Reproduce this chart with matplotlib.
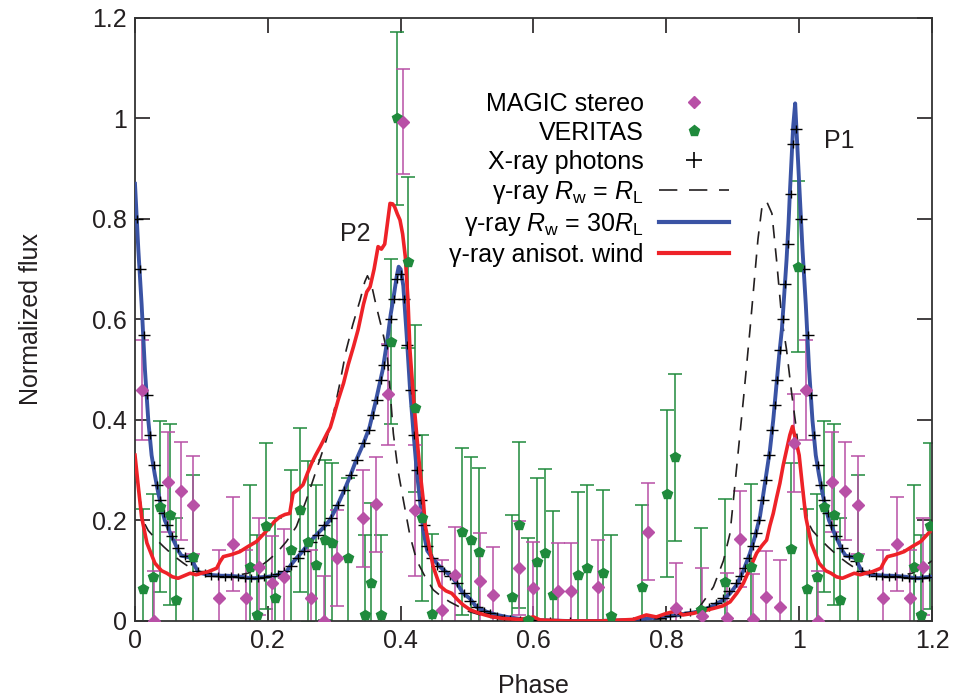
import numpy as np
import matplotlib
matplotlib.use('Agg')
import matplotlib.pyplot as plt
from matplotlib.lines import Line2D

plt.rcParams['font.family'] = ['Liberation Sans', 'DejaVu Sans']
plt.rcParams['mathtext.fontset'] = 'custom'
plt.rcParams['mathtext.rm'] = 'Liberation Sans'
plt.rcParams['mathtext.it'] = 'Liberation Sans:italic'

# --- data (phase 0-1, the 0-0.2 part is repeated at 1-1.2) ---
magic_phase = [0.010, 0.029, 0.050, 0.069, 0.088, 0.127, 0.148, 0.167, 0.186, 0.206,
               0.224, 0.265, 0.284, 0.304, 0.343, 0.363, 0.381, 0.403, 0.422, 0.462,
               0.482, 0.519, 0.539, 0.578, 0.599, 0.637, 0.657, 0.697, 0.773, 0.814,
               0.853, 0.891, 0.911, 0.931, 0.950, 0.971, 0.993]
magic_flux = [0.46, 0.0, 0.277, 0.259, 0.231, 0.046, 0.153, 0.046, 0.108, 0.075,
              0.088, 0.046, 0.0, 0.125, 0.204, 0.232, 0.451, 0.994, 0.22, 0.022,
              0.092, 0.080, 0.052, 0.105, 0.065, 0.060, 0.060, 0.068, 0.178, 0.025,
              0.01, 0.006, 0.163, 0.004, 0.048, 0.028, 0.354]
magic_err = [0.10, 0.10, 0.10, 0.097, 0.097, 0.095, 0.094, 0.095, 0.096, 0.095,
             0.095, 0.095, 0.09, 0.095, 0.097, 0.095, 0.10, 0.104, 0.13, 0.10,
             0.096, 0.095, 0.096, 0.093, 0.093, 0.095, 0.095, 0.093, 0.096, 0.09,
             0.095, 0.09, 0.095, 0.09, 0.092, 0.093, 0.097]

veritas_phase = [0.012, 0.027, 0.037, 0.052, 0.062, 0.088, 0.173, 0.183, 0.197, 0.211,
                 0.235, 0.248, 0.260, 0.273, 0.286, 0.296, 0.321, 0.346, 0.356, 0.371,
                 0.385, 0.394, 0.411, 0.422, 0.432, 0.447, 0.493, 0.506, 0.518, 0.567,
                 0.578, 0.592, 0.605, 0.617, 0.630, 0.667, 0.680, 0.704, 0.716, 0.764,
                 0.801, 0.813, 0.852, 0.888, 0.928, 0.988, 0.998]
veritas_flux = [0.063, 0.087, 0.227, 0.211, 0.042, 0.127, 0.108, 0.012, 0.189, 0.045,
                0.141, 0.221, 0.158, 0.111, 0.161, 0.155, 0.125, 0.012, 0.075, 0.012,
                0.556, 1.0, 0.714, 0.423, 0.205, 0.013, 0.178, 0.161, 0.138, 0.048,
                0.191, 0.002, 0.118, 0.136, 0.052, 0.092, 0.105, 0.096, 0.009, 0.067,
                0.253, 0.326, 0.022, 0.077, 0.108, 0.144, 0.705]
veritas_err = [0.16, 0.165, 0.17, 0.18, 0.163, 0.163, 0.162, 0.16, 0.166, 0.16,
               0.16, 0.164, 0.16, 0.16, 0.16, 0.16, 0.16, 0.16, 0.16, 0.16,
               0.165, 0.172, 0.17, 0.166, 0.166, 0.16, 0.166, 0.166, 0.166, 0.163,
               0.166, 0.163, 0.166, 0.166, 0.166, 0.165, 0.166, 0.165, 0.162, 0.163,
               0.166, 0.166, 0.163, 0.165, 0.165, 0.17, 0.17]

xray_phase = [0.003, 0.008, 0.013, 0.018, 0.023, 0.028, 0.033, 0.038, 0.043, 0.048,
              0.055, 0.065, 0.075, 0.085, 0.095, 0.105, 0.115, 0.125, 0.135, 0.145,
              0.155, 0.165, 0.175, 0.185, 0.195, 0.205, 0.215, 0.225, 0.235, 0.245,
              0.255, 0.265, 0.275, 0.285, 0.295, 0.305, 0.315, 0.325, 0.335, 0.345,
              0.352, 0.358, 0.364, 0.370, 0.375, 0.380, 0.385, 0.390, 0.395, 0.400,
              0.405, 0.410, 0.415, 0.420, 0.425, 0.430, 0.435, 0.440, 0.447, 0.455,
              0.465, 0.475, 0.485, 0.495, 0.505, 0.515, 0.525, 0.535, 0.545, 0.555,
              0.565, 0.580, 0.600, 0.625, 0.655, 0.750, 0.760, 0.790, 0.805, 0.820,
              0.835, 0.850, 0.865, 0.875, 0.885, 0.895, 0.905, 0.912, 0.918, 0.924,
              0.930, 0.935, 0.940, 0.945, 0.950, 0.955, 0.959, 0.963, 0.967, 0.971,
              0.975, 0.979, 0.983, 0.987, 0.991, 0.995]
xray_flux = [0.80, 0.70, 0.57, 0.45, 0.37, 0.31, 0.27, 0.24, 0.215, 0.19,
             0.17, 0.145, 0.13, 0.12, 0.10, 0.095, 0.09, 0.09, 0.088, 0.09,
             0.087, 0.085, 0.086, 0.085, 0.088, 0.09, 0.093, 0.10, 0.11, 0.125,
             0.14, 0.158, 0.172, 0.19, 0.205, 0.23, 0.26, 0.29, 0.32, 0.355,
             0.38, 0.41, 0.44, 0.48, 0.51, 0.55, 0.60, 0.64, 0.68, 0.69,
             0.64, 0.55, 0.46, 0.37, 0.30, 0.24, 0.19, 0.15, 0.125, 0.11,
             0.10, 0.09, 0.075, 0.055, 0.04, 0.028, 0.02, 0.015, 0.01, 0.006,
             0.004, 0.002, 0.001, 0.0, 0.0, 0.0, 0.0, 0.005, 0.01, 0.014,
             0.017, 0.02, 0.028, 0.035, 0.045, 0.06, 0.075, 0.09, 0.105, 0.125,
             0.15, 0.175, 0.20, 0.24, 0.28, 0.33, 0.38, 0.43, 0.48, 0.54,
             0.60, 0.67, 0.75, 0.85, 0.95, 0.98]

# gamma-ray R_w = 30 R_L (blue)
blue_phase = [0.000, 0.005, 0.010, 0.015, 0.020, 0.025, 0.030, 0.035, 0.040, 0.045,
              0.050, 0.055, 0.060, 0.065, 0.070, 0.080, 0.085, 0.090, 0.095, 0.100,
              0.110, 0.120, 0.130, 0.140, 0.150, 0.160, 0.170, 0.180, 0.190, 0.200,
              0.210, 0.220, 0.228, 0.235, 0.243, 0.250, 0.258, 0.265, 0.273, 0.283,
              0.293, 0.303, 0.313, 0.323, 0.333, 0.343, 0.353, 0.363, 0.373, 0.380,
              0.385, 0.390, 0.394, 0.397, 0.400, 0.404, 0.409, 0.414, 0.419, 0.424,
              0.429, 0.434, 0.440, 0.449, 0.459, 0.468, 0.477, 0.486, 0.494, 0.504,
              0.514, 0.530, 0.545, 0.560, 0.580, 0.600, 0.650, 0.700, 0.750, 0.800,
              0.830, 0.851, 0.870, 0.886, 0.896, 0.906, 0.916, 0.926, 0.934, 0.941,
              0.948, 0.956, 0.961, 0.966, 0.970, 0.974, 0.978, 0.981, 0.984, 0.986,
              0.989, 0.991, 0.994, 0.997]
blue_flux = [0.87, 0.74, 0.63, 0.50, 0.40, 0.33, 0.29, 0.255, 0.225, 0.20,
             0.185, 0.168, 0.155, 0.14, 0.13, 0.127, 0.125, 0.11, 0.098, 0.095,
             0.092, 0.091, 0.09, 0.09, 0.089, 0.088, 0.086, 0.085, 0.087, 0.088,
             0.09, 0.094, 0.098, 0.112, 0.125, 0.135, 0.148, 0.16, 0.171, 0.185,
             0.20, 0.225, 0.254, 0.285, 0.32, 0.35, 0.385, 0.44, 0.50, 0.56,
             0.61, 0.65, 0.685, 0.705, 0.70, 0.667, 0.57, 0.464, 0.38, 0.302,
             0.24, 0.18, 0.14, 0.123, 0.108, 0.098, 0.088, 0.072, 0.055, 0.045,
             0.028, 0.018, 0.012, 0.008, 0.004, 0.002, 0.0, 0.0, 0.002, 0.009,
             0.015, 0.019, 0.03, 0.042, 0.055, 0.072, 0.10, 0.135, 0.17, 0.208,
             0.27, 0.34, 0.40, 0.473, 0.53, 0.58, 0.66, 0.718, 0.79, 0.851,
             0.93, 0.984, 1.03, 0.95]

# gamma-ray anisotropic wind (red)
red_phase = [0.000, 0.005, 0.010, 0.018, 0.030, 0.040, 0.048, 0.056, 0.065, 0.074,
             0.083, 0.092, 0.100, 0.110, 0.123, 0.128, 0.133, 0.145, 0.158, 0.170,
             0.183, 0.193, 0.200, 0.210, 0.218, 0.226, 0.233, 0.238, 0.246, 0.253,
             0.260, 0.266, 0.272, 0.279, 0.289, 0.294, 0.299, 0.306, 0.314, 0.321,
             0.329, 0.336, 0.344, 0.349, 0.354, 0.360, 0.366, 0.371, 0.376, 0.380,
             0.384, 0.388, 0.391, 0.395, 0.399, 0.403, 0.407, 0.411, 0.414, 0.419,
             0.424, 0.429, 0.434, 0.437, 0.444, 0.449, 0.459, 0.468, 0.477, 0.486,
             0.494, 0.505, 0.519, 0.535, 0.554, 0.580, 0.600, 0.610, 0.650, 0.700,
             0.750, 0.770, 0.785, 0.800, 0.815, 0.825, 0.840, 0.856, 0.871, 0.885,
             0.896, 0.906, 0.916, 0.926, 0.936, 0.944, 0.951, 0.956, 0.961, 0.966,
             0.971, 0.976, 0.981, 0.986, 0.990, 0.995]
red_flux = [0.33, 0.267, 0.207, 0.155, 0.115, 0.10, 0.095, 0.088, 0.085, 0.09,
            0.095, 0.092, 0.095, 0.098, 0.105, 0.118, 0.128, 0.132, 0.138, 0.148,
            0.158, 0.172, 0.182, 0.198, 0.207, 0.212, 0.214, 0.254, 0.262, 0.271,
            0.295, 0.314, 0.33, 0.347, 0.373, 0.385, 0.407, 0.44, 0.473, 0.51,
            0.546, 0.58, 0.63, 0.655, 0.665, 0.70, 0.745, 0.74, 0.75, 0.79,
            0.831, 0.83, 0.824, 0.81, 0.798, 0.77, 0.725, 0.639, 0.539, 0.45,
            0.373, 0.30, 0.241, 0.19, 0.141, 0.108, 0.07, 0.06, 0.055, 0.042,
            0.032, 0.022, 0.015, 0.009, 0.005, 0.003, 0.008, 0.002, 0.0, 0.0,
            0.003, 0.012, 0.008, 0.015, 0.02, 0.012, 0.015, 0.02, 0.025, 0.03,
            0.038, 0.055, 0.075, 0.105, 0.135, 0.15, 0.161, 0.19, 0.214, 0.245,
            0.274, 0.31, 0.34, 0.37, 0.387, 0.36]

# gamma-ray R_w = R_L (dashed)
dash_phase = [0.000, 0.006, 0.012, 0.020, 0.030, 0.043, 0.058, 0.073, 0.090, 0.110,
              0.130, 0.150, 0.170, 0.190, 0.200, 0.213, 0.228, 0.243, 0.258, 0.268,
              0.278, 0.288, 0.298, 0.308, 0.318, 0.328, 0.339, 0.346, 0.350, 0.356,
              0.361, 0.366, 0.372, 0.379, 0.384, 0.389, 0.396, 0.404, 0.414, 0.424,
              0.436, 0.449, 0.462, 0.474, 0.500, 0.530, 0.560, 0.600, 0.750, 0.800,
              0.840, 0.851, 0.862, 0.871, 0.886, 0.896, 0.906, 0.916, 0.926, 0.933,
              0.938, 0.944, 0.951, 0.959, 0.966, 0.974, 0.981, 0.989, 0.995]
dash_flux = [0.33, 0.26, 0.20, 0.18, 0.165, 0.148, 0.13, 0.115, 0.10, 0.092,
             0.09, 0.09, 0.095, 0.11, 0.12, 0.135, 0.158, 0.188, 0.241, 0.28,
             0.32, 0.36, 0.407, 0.47, 0.539, 0.59, 0.639, 0.675, 0.687, 0.67,
             0.64, 0.612, 0.58, 0.539, 0.46, 0.373, 0.30, 0.241, 0.17, 0.121,
             0.09, 0.062, 0.048, 0.038, 0.02, 0.008, 0.003, 0.0, 0.0, 0.005,
             0.015, 0.03, 0.05, 0.068, 0.12, 0.175, 0.307, 0.44, 0.58, 0.685,
             0.76, 0.824, 0.835, 0.811, 0.718, 0.60, 0.54, 0.45, 0.39]


def repeat(phase, *cols):
    # the 0-0.2 part of the light curve is shown again at 1.0-1.2
    phase = np.asarray(phase)
    m = phase <= 0.2
    out = [np.concatenate([phase, phase[m] + 1])]
    for c in cols:
        c = np.asarray(c)
        out.append(np.concatenate([c, c[m]]))
    return out


magenta = '#b850a6'
green = '#1f8a3c'
blue = '#3a53a4'
red = '#ee2228'
ink = '#231f20'

fig = plt.figure(figsize=(9.76, 7.0), dpi=100)
ax = fig.add_axes([0.1383, 0.1129, 0.8166, 0.8614])

mp, mf, me = repeat(magic_phase, magic_flux, magic_err)
vp, vf, ve = repeat(veritas_phase, veritas_flux, veritas_err)
xp, xf = repeat(xray_phase, xray_flux)
bp, bf = repeat(blue_phase, blue_flux)
rp, rf = repeat(red_phase, red_flux)
dp, df = repeat(dash_phase, dash_flux)

ax.errorbar(vp, vf, yerr=ve, fmt='none', ecolor=green, elinewidth=1.1, capsize=5, capthick=1.1, zorder=2)
ax.errorbar(mp, mf, yerr=me, fmt='none', ecolor=magenta, elinewidth=1.1, capsize=5, capthick=1.1, zorder=2)
ax.plot(dp, df, color=ink, ls=(0, (8, 6)), lw=1.2, zorder=3)
ax.plot(bp, bf, color=blue, lw=2.8, zorder=4)
ax.errorbar(xp, xf, xerr=0.009, yerr=0.008, fmt='none', ecolor='black', elinewidth=1.0, zorder=5)
ax.plot(rp, rf, color=red, lw=2.6, zorder=6)
ax.plot(vp, vf, ls='none', marker='p', ms=7.5, color=green, mec=green, zorder=7)
ax.plot(mp, mf, ls='none', marker='D', ms=6, color=magenta, mec=magenta, zorder=7)

ax.text(0.331, 0.77, 'P2', fontsize=18, color=ink, ha='center', va='center')
ax.text(1.061, 0.955, 'P1', fontsize=18, color=ink, ha='center', va='center')

ax.set_xlim(0, 1.2)
ax.set_ylim(0, 1.2)
ticks = [0, 0.2, 0.4, 0.6, 0.8, 1, 1.2]
ax.set_xticks(ticks)
ax.set_yticks(ticks)
ax.set_xticklabels(['0', '0.2', '0.4', '0.6', '0.8', '1', '1.2'])
ax.set_yticklabels(['0', '0.2', '0.4', '0.6', '0.8', '1', '1.2'])
ax.tick_params(direction='in', length=11, width=1.2, top=True, right=True,
               labelsize=18, colors=ink, pad=6)
for s in ax.spines.values():
    s.set_color('#333333')
    s.set_linewidth(1.3)
ax.set_xlabel('Phase', fontsize=18, color=ink, labelpad=15)
ax.set_ylabel('Normalized flux', fontsize=18, color=ink, labelpad=35)

handles = [
    Line2D([], [], ls='none', marker='D', ms=6, color=magenta),
    Line2D([], [], ls='none', marker='p', ms=8, color=green),
    Line2D([], [], ls='none', marker='+', ms=12, mew=1.2, color='black'),
    Line2D([], [], color=ink, ls=(0, (11, 7)), lw=1.2),
    Line2D([], [], color=blue, lw=3),
    Line2D([], [], color=red, lw=3),
]
labels = ['MAGIC stereo', 'VERITAS', 'X-ray photons',
          r'γ-ray $R_\mathrm{w}$ = $R_\mathrm{L}$',
          r'γ-ray $R_\mathrm{w}$ = 30$R_\mathrm{L}$',
          'γ-ray anisot. wind']
ax.legend(handles, labels, loc='upper right', bbox_to_anchor=(0.745, 0.877),
          frameon=False, markerfirst=False, fontsize=18, handlelength=2.8,
          handletextpad=0.6, labelspacing=0.2, borderpad=0, borderaxespad=0)

fig.savefig('out.png', dpi=100)
